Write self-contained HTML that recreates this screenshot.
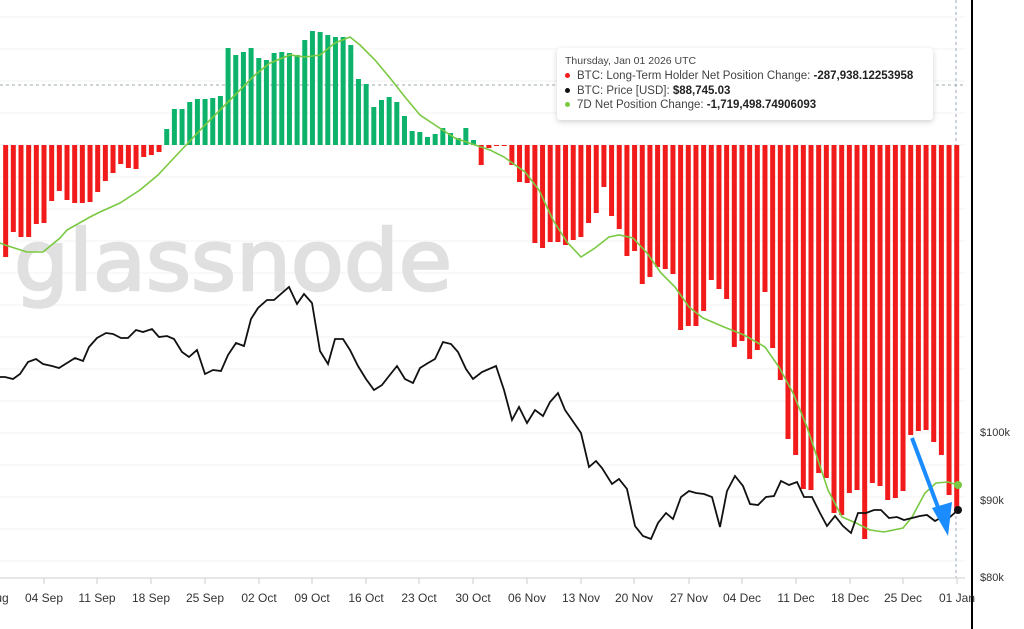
<!DOCTYPE html>
<html><head><meta charset="utf-8"><style>
html,body{margin:0;padding:0;background:#fff;}
body{width:1024px;height:629px;overflow:hidden;position:relative;font-family:"Liberation Sans",sans-serif;}
svg{position:absolute;left:0;top:0;}
.tt{position:absolute;left:557px;top:48px;width:376px;height:72px;background:#fff;box-shadow:0 2px 6px rgba(0,0,0,0.18);border-radius:3px;font-size:11.5px;color:#444;}
.tt div{position:absolute;left:8px;white-space:nowrap;}
.tt b{color:#222;}
.dot{display:inline-block;width:5px;height:5px;border-radius:50%;margin-right:7px;vertical-align:middle;}
</style></head><body>
<svg id="s" width="1024" height="629" viewBox="0 0 1024 629">
<g id="grid" stroke="#f3f3f3" stroke-width="1"></g>
<text x="14" y="290" font-family="DejaVu Sans, sans-serif" font-size="84" fill="#e0e0e0" stroke="#e0e0e0" stroke-width="2.5" textLength="438" lengthAdjust="spacingAndGlyphs">glassnode</text>
<line x1="0" y1="85" x2="965" y2="85" stroke="#9aa" stroke-width="1" stroke-dasharray="3,3"/>
<line x1="956" y1="0" x2="956" y2="578" stroke="#9ab" stroke-width="1" stroke-dasharray="3,3"/>
<g id="bars"></g>
<polyline id="gl" fill="none" stroke="#7ac943" stroke-width="1.6"/>
<polyline id="bl" fill="none" stroke="#111" stroke-width="1.8"/>
<circle cx="958" cy="485" r="4" fill="#7ac943"/>
<circle cx="958" cy="510" r="4" fill="#111"/>
<line x1="912" y1="438" x2="942" y2="518" stroke="#1a8cff" stroke-width="4"/>
<polygon points="948,536 932,508 952,502" fill="#1a8cff"/>
<line x1="0" y1="578" x2="965" y2="578" stroke="#ddd" stroke-width="1.5"/>
<line x1="972" y1="0" x2="972" y2="640" stroke="#000" stroke-width="2"/>
<g id="ticks" stroke="#ccc"></g>
<g font-family="Liberation Sans, sans-serif" font-size="12" fill="#333" text-anchor="middle">
<text x="-2" y="602">Aug</text>
<text x="44" y="602">04 Sep</text><text x="97" y="602">11 Sep</text><text x="151" y="602">18 Sep</text>
<text x="205" y="602">25 Sep</text><text x="259" y="602">02 Oct</text><text x="312" y="602">09 Oct</text>
<text x="366" y="602">16 Oct</text><text x="419" y="602">23 Oct</text><text x="473" y="602">30 Oct</text>
<text x="527" y="602">06 Nov</text><text x="581" y="602">13 Nov</text><text x="634" y="602">20 Nov</text>
<text x="689" y="602">27 Nov</text><text x="742" y="602">04 Dec</text><text x="796" y="602">11 Dec</text>
<text x="850" y="602">18 Dec</text><text x="903" y="602">25 Dec</text><text x="957" y="602">01 Jan</text>
</g>
<g font-family="Liberation Sans, sans-serif" font-size="11" fill="#333">
<text x="980" y="436">$100k</text><text x="980" y="504">$90k</text><text x="980" y="581">$80k</text>
</g>
</svg>
<div class="tt">
<div style="top:7px;font-size:10.5px;color:#444">Thursday, Jan 01 2026 UTC</div>
<div style="top:22px"><span class="dot" style="background:#f21b1b"></span>BTC: Long-Term Holder Net Position Change: <b>-287,938.12253958</b></div>
<div style="top:37px"><span class="dot" style="background:#111"></span>BTC: Price [USD]: <b>$88,745.03</b></div>
<div style="top:51px"><span class="dot" style="background:#7ac943"></span>7D Net Position Change: <b>-1,719,498.74906093</b></div>
</div>
<script>
var NS="http://www.w3.org/2000/svg";
function el(t,a,p){var e=document.createElementNS(NS,t);for(var k in a)e.setAttribute(k,a[k]);document.getElementById(p).appendChild(e);}
for(var y=17;y<=561;y+=32){el('line',{x1:0,y1:y,x2:965,y2:y},'grid');}
[44,97,151,205,259,312,366,419,473,527,581,634,689,742,796,850,903,957].forEach(function(x){el('line',{x1:x,y1:578,x2:x,y2:584},'ticks');});
var Z=145;
var red1=[257,232,237,237,224,223,201,191,200,203,203,202,192,181,173,164,168,169,157,155,152];
var green=[129,109,109,102,99,99,98,96,48,55,52,48,58,60,53,52,53,55,40,31,32,35,37,37,45,79,84,107,100,97,102,116,131,132,137,134,128,133,138,128,140];
var red2=[165,148,146,146];
var red3=[164,165,182,183,243,248,242,242,245,240,237,223,213,187,216,229,256,251,284,277,267,269,274,330,326,326,311,280,289,299,347,341,359,350,292,348,380,439,455,489,490,473,478,513,515,493,490,539,483,486,500,498,491,435,431,430,442,455,495,513];
function X(d){return 44+d*7.67;}
red1.forEach(function(v,i){var d=-5+i;el('rect',{x:X(d)-2.5,y:Z,width:5,height:v-Z,fill:'#f21b1b'},'bars');});
green.forEach(function(v,i){var d=16+i;el('rect',{x:X(d)-2.5,y:v,width:5,height:Z-v,fill:'#0db36b'},'bars');});
red2.forEach(function(v,i){var d=57+i;el('rect',{x:X(d)-2.5,y:Z,width:5,height:v-Z,fill:'#f21b1b'},'bars');});
red3.slice(1).forEach(function(v,i){var d=61+i;el('rect',{x:X(d)-2.5,y:Z,width:5,height:v-Z,fill:'#f21b1b'},'bars');});
document.getElementById('gl').setAttribute('points',"0,243 5,245 27,252 43,252 60,238 67,230 90,217 100,212 120,203 140,190 158,175 172,160 188,143 205,125 220,110 240,90 255,75 270,63 290,55 305,57 320,55 335,43 350,37 360,45 375,60 390,78 405,97 420,115 435,125 455,138 475,145 490,150 504,157 525,172 539,190 553,220 567,242 581,257 595,248 609,237 619,235 633,238 647,253 661,273 675,287 689,307 703,318 724,327 744,335 765,347 779,367 793,393 807,427 818,460 828,490 842,517 856,523 870,530 884,532 903,528 912,517 925,493 936,483 948,482 958,485");
document.getElementById('bl').setAttribute('points',"0,377 5,377 13,379 20,374 28,362 36,359 43,364 52,366 59,368 67,363 75,358 83,361 89,347 97,338 106,333 113,334 121,338 128,338 136,330 143,332 152,329 159,337 167,336 174,339 182,352 189,357 197,350 205,374 213,370 221,371 228,355 236,343 244,346 251,319 258,308 267,300 274,300 282,293 289,287 297,304 304,294 312,303 320,351 328,364 335,339 343,339 350,350 358,366 366,379 374,390 382,385 389,376 397,366 405,379 413,383 420,368 428,363 435,359 443,342 451,344 458,352 466,369 473,379 482,372 496,366 504,390 512,420 519,407 527,423 535,410 543,416 550,402 558,393 565,410 572,420 581,433 589,467 596,461 602,468 612,484 619,479 627,489 635,526 643,536 651,539 658,523 666,513 673,519 681,497 689,491 696,493 704,494 712,497 720,527 727,491 735,476 743,486 750,504 758,505 766,497 774,496 781,481 789,485 797,482 804,497 812,497 820,513 827,526 835,516 843,526 851,533 858,513 866,513 874,510 881,510 889,518 897,517 904,520 912,518 920,516 927,515 935,521 942,517 950,517 958,510");
</script>
</body></html>
